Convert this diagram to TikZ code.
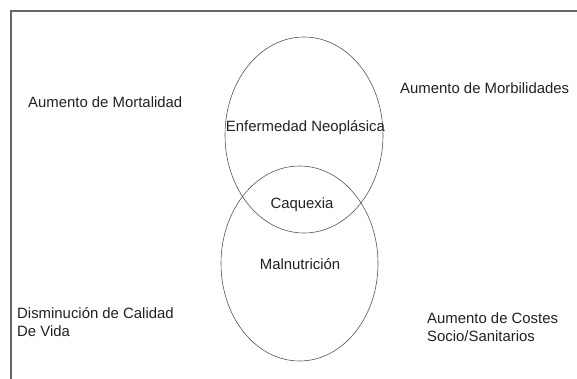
\documentclass[tikz,border=0pt]{standalone}
\usepackage{fontspec}
\setmainfont{Liberation Sans}
\usetikzlibrary{shapes.geometric}
\definecolor{framegray}{rgb}{0.40,0.40,0.40}
\definecolor{linegray}{rgb}{0.33,0.33,0.33}
\definecolor{textgray}{rgb}{0.13,0.13,0.13}

\begin{document}
\begin{tikzpicture}[x=1pt, y=-1pt,
        lbl/.style={text=textgray, inner sep=0pt, font=\fontsize{14.9}{18}\selectfont},
        venn/.style={ellipse, draw=linegray, line width=0.6pt, inner sep=0pt}]
        \useasboundingbox (0,0) rectangle (577,379);

        \draw[framegray, line width=1.4pt] (577,11) -- (11,11) -- (11,379);

        \node[venn, minimum width=158pt, minimum height=196pt] (neo) at (304,135) {};
        \node[venn, minimum width=157pt, minimum height=195pt] (mal) at (299.5,263.5) {};

        \node[lbl, anchor=base] (tneo) at (305.5,132) {Enfermedad Neoplásica};
        \node[lbl, anchor=base] (caq) at (302,208) {Caquexia};
        \node[lbl, anchor=base] (tmal) at (300,269) {Malnutrición};

        \node[lbl, anchor=base west] (mort) at (28,108) {Aumento de Mortalidad};
        \node[lbl, anchor=base west] (morb) at (400,94) {Aumento de Morbilidades};
        \node[lbl, anchor=base west, align=left] (vida) at (17,336.5) {Disminución de Calidad\\De Vida};
        \node[lbl, anchor=base west, align=left] (cost) at (427,341.5) {Aumento de Costes\\Socio/Sanitarios};
    \end{tikzpicture}
\end{document}
